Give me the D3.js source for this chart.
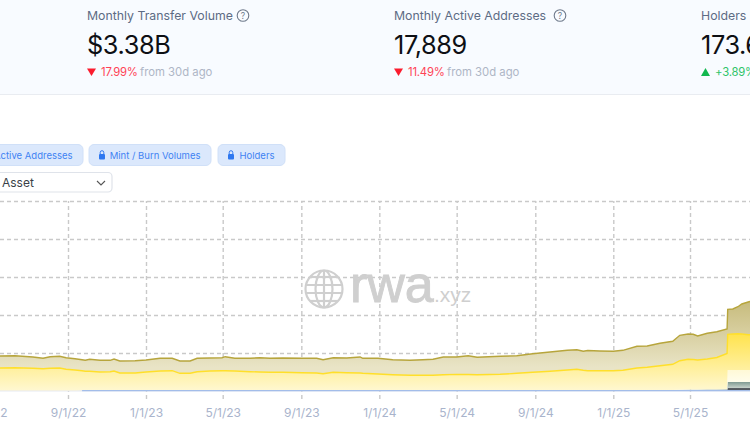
<!DOCTYPE html>
<html><head><meta charset="utf-8">
<script src="https://cdn.jsdelivr.net/npm/d3@7"></script>
<style>
html,body{margin:0;padding:0;background:#fff;overflow:hidden}
svg{display:block;font-family:Inter,"Noto Sans",sans-serif}
.grid line{stroke:#c9c9c9;stroke-width:1.4;stroke-dasharray:4 3}
.grid path{display:none}
.xa text{font-size:12px;fill:#a9b4cc;font-family:Inter,sans-serif}
</style></head><body>
<div id="c"></div>
<script>
const dates=["2022-04-29","2022-05-18","2022-06-10","2022-07-08","2022-07-24","2022-08-04","2022-08-19","2022-08-29","2022-09-12","2022-09-23","2022-09-28","2022-10-05","2022-10-21","2022-11-06","2022-11-12","2022-11-21","2022-12-15","2023-01-01","2023-01-23","2023-02-11","2023-02-23","2023-03-11","2023-03-22","2023-04-11","2023-04-30","2023-05-05","2023-05-20","2023-06-13","2023-06-28","2023-07-14","2023-08-03","2023-09-02","2023-09-25","2023-10-05","2023-10-21","2023-11-11","2023-12-02","2023-12-06","2023-12-30","2024-01-22","2024-02-18","2024-03-09","2024-03-25","2024-04-10","2024-05-01","2024-05-19","2024-06-02","2024-07-08","2024-08-03","2024-08-28","2024-09-24","2024-10-21","2024-11-05","2024-11-15","2024-11-22","2024-12-11","2025-01-01","2025-01-16","2025-02-07","2025-02-23","2025-03-15","2025-04-04","2025-04-15","2025-04-28","2025-05-06","2025-05-13","2025-05-28","2025-06-12","2025-06-28","2025-06-29","2025-07-07","2025-07-15","2025-07-21","2025-07-31","2025-08-06"];
// Readings from the picture; the y axis carries no labels, so units are relative (gridline step = 38).
const cumulativeYellow=[22.5,23,23.3,22.7,22.3,22.7,23,21.7,21,20.2,19.7,19.7,19,19.3,20,18,18,19,20,20.3,17.7,17.7,19.3,20,20.3,20.3,20,19.3,19,18.7,18.7,18.3,18,17.3,18.7,18.3,18,17.8,17,16.3,15.7,15.7,15.7,16.3,16.6,16.5,16.3,16.7,17.7,18.7,19.7,21,21.7,20.7,20.3,20.3,20.3,20.8,23,23.7,25.2,26.7,30.3,31.8,31.5,31,32,33.5,37.5,56.7,57,57.3,57,56.3,56.3];
const cumulativeTop=[34,35,35.3,34,32.7,34.3,34.7,33.3,32.3,31.2,30.7,31.7,30.7,30.7,32,30,30.3,31,32.7,32.7,30,30,32.7,33,33.3,34.3,32.7,32.7,33.3,32.7,33,32.7,32.7,31.3,33.3,33,34,32.7,32.7,31.3,30.7,31.3,31.7,34,34,35.3,33.7,34.7,35.3,37.3,39,40.7,41.3,39.7,40.5,40,39.7,40.7,44.7,45,47.7,49.7,55.7,57,56.7,55,57.7,59.3,62,81.7,82,84.3,87,89,90];
const blueBase=dates.map(d=>d>="2022-09-23"?0.4:0);
const darkBand=dates.map(d=>d>="2025-06-29"?2.6:0);
const tealBand=[0,0,0,0,0,0,0,0,0,0,0,0,0,0,0,0,0,0,0,0,0,0,0,0,0,0,0,0,0,0,0,0,0,0,0,0,0,0,0,0,0,0,0,0,0,0,0,0,0,0,0,0,0,0,0,0,0,0,0.2,0.3,0.4,0.6,0.8,1.1,1.2,1.2,1.3,1.4,1.6,6,6,6,6,6,6];
const creamBand=dates.map(d=>d>="2025-06-29"?12:0);
const tickDates=["2022-05-01","2022-09-01","2023-01-01","2023-05-01","2023-09-01","2024-01-01","2024-05-01","2024-09-01","2025-01-01","2025-05-01"];
const yTicks=[38,76,114,152,190];
const cards=[{x:87,t:"Monthly Transfer Volume",v:"$3.38B",d:"17.99%",up:false,q:243},{x:394,t:"Monthly Active Addresses",v:"17,889",d:"11.49%",up:false,q:560},{x:701,t:"Holders",v:"173.6",d:"+3.89%",up:true,q:null}];
const buttons=[{x:-60,w:143,t:"Active Addresses",lock:false},{x:89,w:122,t:"Mint / Burn Volumes",lock:true},{x:218,w:67,t:"Holders",lock:true}];

const W=750,H=430;
const parse=d3.utcParse("%Y-%m-%d");
const svg=d3.select("#c").append("svg").attr("width",W).attr("height",H);
const x=d3.scaleUtc().domain([parse("2022-09-01"),parse("2025-05-01")]).range([68,690]);
const y=d3.scaleLinear().domain([0,190]).range([391,201]);

// header
svg.append("rect").attr("width",W).attr("height",94).attr("fill","#f8fbff");
svg.append("line").attr("x1",0).attr("x2",W).attr("y1",94.5).attr("y2",94.5).attr("stroke","#e9ecf1");
const c=svg.selectAll(".card").data(cards).join("g").attr("transform",d=>`translate(${d.x},0)`);
c.append("text").attr("y",20).attr("font-size",12.3).attr("fill","#5d6b84").text(d=>d.t);
c.append("text").attr("y",54).attr("font-size",25.3).attr("fill","#0d0f14").attr("letter-spacing",-0.4).text(d=>d.v);
c.append("path").attr("d",d=>d.up?"M0,76L4.5,68L9,76Z":"M0,68.5L9,68.5L4.5,76Z").attr("fill",d=>d.up?"#12b84f":"#fb1c2e");
c.append("text").attr("x",14).attr("y",76).attr("font-size",11.3).attr("letter-spacing",-0.2).attr("fill",d=>d.up?"#2fc468":"#ff4256").text(d=>d.d);
c.append("text").attr("x",53).attr("y",76).attr("font-size",11.3).attr("fill","#aeb6c6").text(d=>d.up?"":"from 30d ago");
const q=svg.selectAll(".q").data(cards.filter(d=>d.q)).join("g").attr("transform",d=>`translate(${d.q},15.5)`);
q.append("circle").attr("r",5.8).attr("fill","none").attr("stroke","#6f7a8c").attr("stroke-width",1.1);
q.append("text").attr("text-anchor","middle").attr("y",3.2).attr("font-size",8.5).attr("fill","#6f7a8c").text("?");

// buttons
const b=svg.selectAll(".btn").data(buttons).join("g").attr("transform",d=>`translate(${d.x},144.5)`);
b.append("rect").attr("width",d=>d.w).attr("height",21).attr("rx",5).attr("fill","#dbe8fc").attr("stroke","#d0e0f8");
b.append("text").attr("x",d=>d.w-(d.lock?10.5:10.5)).attr("y",14.2).attr("text-anchor","end").attr("font-size",9.5).attr("fill","#3f83f3").text(d=>d.t);
const lk=b.filter(d=>d.lock).append("g").attr("transform","translate(13,6)");
lk.append("rect").attr("x",-3).attr("y",3.5).attr("width",6).attr("height",5.5).attr("rx",1).attr("fill","#2f78f0");
lk.append("path").attr("d","M-1.8,3.5V2A1.8,1.8 0 0 1 1.8,2V3.5").attr("fill","none").attr("stroke","#2f78f0").attr("stroke-width",1);
// select
svg.append("rect").attr("x",-20).attr("y",172.5).attr("width",132).attr("height",19.5).attr("rx",4).attr("fill","#fff").attr("stroke","#dfe3ea").attr("stroke-width",1.2);
svg.append("text").attr("x",2).attr("y",187).attr("font-size",12).attr("fill","#3a3f47").text("Asset");
svg.append("path").attr("d","M97,181L101,185L105,181").attr("fill","none").attr("stroke","#555").attr("stroke-width",1.1);

// gradients
const defs=svg.append("defs");
function grad(id,y1,y2,c1,c2){const g=defs.append("linearGradient").attr("id",id).attr("gradientUnits","userSpaceOnUse").attr("x1",0).attr("x2",0).attr("y1",y1).attr("y2",y2);g.append("stop").attr("offset",0).attr("stop-color",c1);g.append("stop").attr("offset",1).attr("stop-color",c2);}
grad("gOlive",y(92),y(24),"#c6ba7a","#e9e4c6");
grad("gYellow",y(57),y(0),"#ffe34e","#fff8d2");
grad("gCream",y(21),y(9),"#fff9d6","#fffdec");
grad("gTeal",y(9),y(3),"#7f9a92","#c7d2cb");
grad("gDark",y(3),y(0),"#5b6066","#4d5258");
grad("gBlue",y(1),y(0),"#9db8e6","#9db8e6");

// grid
svg.append("g").attr("class","grid").attr("transform","translate(0,0)")
  .call(d3.axisLeft(y).tickValues(yTicks).tickSize(-W).tickFormat("")).selectAll("line");
const xa=svg.append("g").attr("class","grid xa").attr("transform","translate(0,399)")
  .call(d3.axisBottom(x).tickValues(tickDates.map(parse)).tickSize(-198).tickPadding(9).tickFormat(d3.utcFormat("%-m/%-d/%y")));

// stack
const keys=["blue","dark","teal","cream","yellow","olive"];
const rows=dates.map((d,i)=>{
  const low=blueBase[i]+darkBand[i]+tealBand[i]+creamBand[i];
  return {date:parse(d),blue:blueBase[i],dark:darkBand[i],teal:tealBand[i],cream:creamBand[i],
    yellow:cumulativeYellow[i]-low,olive:cumulativeTop[i]-cumulativeYellow[i]};
});
const stack=d3.stack().keys(keys)(rows);
const fills={blue:"url(#gBlue)",dark:"url(#gDark)",teal:"url(#gTeal)",cream:"url(#gCream)",yellow:"url(#gYellow)",olive:"url(#gOlive)"};
const area=d3.area().x(d=>x(d.data.date)).y0(d=>y(d[0])).y1(d=>y(d[1]));
const line=d3.line().x(d=>x(d.data.date)).y(d=>y(d[1]));
svg.append("g").selectAll("path").data(stack).join("path").attr("d",area).attr("fill",s=>fills[s.key]);
svg.append("line").attr("x1",0).attr("x2",W).attr("y1",y(0)).attr("y2",y(0)).attr("stroke","#e6e9f2").attr("stroke-width",1);
const ln={olive:"#b7a53c",yellow:"#ffdf2a"};
svg.append("g").selectAll("path").data(stack.filter(s=>ln[s.key])).join("path").attr("d",line).attr("fill","none")
  .attr("stroke",s=>ln[s.key]).attr("stroke-width",1.4);
svg.append("path").datum(stack[0].filter(d=>d.data.blue>0)).attr("d",line).attr("fill","none").attr("stroke","#a3bde9").attr("stroke-width",1.3);

// watermark
const wm=svg.append("g").attr("fill","none").attr("stroke","#cfcfcf").attr("stroke-width",2.2).attr("transform","translate(324,289)");
wm.append("circle").attr("r",18.5);
wm.append("ellipse").attr("rx",8.5).attr("ry",18.5);
wm.append("line").attr("y1",-18.5).attr("y2",18.5);
[-12,-4,4,12].forEach(v=>wm.append("line").attr("x1",-Math.sqrt(18.5*18.5-v*v)).attr("x2",Math.sqrt(18.5*18.5-v*v)).attr("y1",v).attr("y2",v));
svg.append("text").attr("x",350).attr("y",302).attr("font-family","'Liberation Sans',Arial,sans-serif").attr("font-size",52).attr("stroke","#cfcfcf").attr("stroke-width",0.9).attr("fill","#cfcfcf").text("rwa");
svg.append("text").attr("x",434).attr("y",302).attr("font-family","'Liberation Sans',Arial,sans-serif").attr("font-size",21).attr("fill","#cfcfcf").text(".xyz");
</script>
</body></html>
